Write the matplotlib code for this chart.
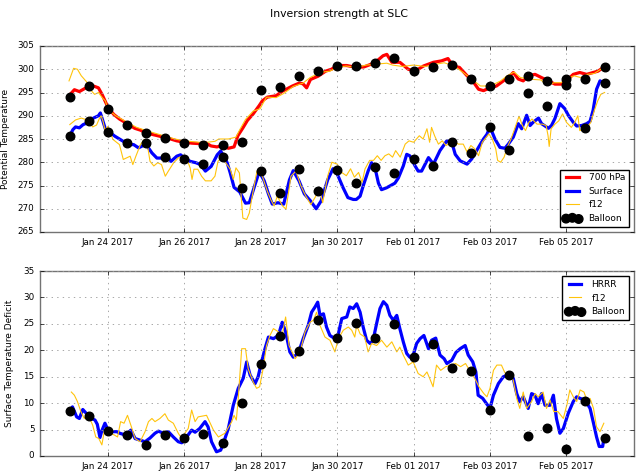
import datetime as dt
import matplotlib
matplotlib.use("Agg")
import matplotlib.pyplot as plt
import matplotlib.dates as mdates

# times are given in days after 2017-01-23 00Z
start = dt.datetime(2017, 1, 23, 0)

# --- top panel: potential temperature ---
t_700 = [0.0, 0.12, 0.25, 0.4, 0.5, 0.62, 0.75, 0.85, 1.0, 1.15, 1.3, 1.5, 1.7, 1.85, 2.0, 2.2, 2.4,
         2.6, 2.8, 3.0, 3.2, 3.4, 3.55, 3.7, 3.85, 4.0, 4.15, 4.3, 4.4, 4.54, 4.65, 4.8, 4.96, 5.04,
         5.17, 5.4, 5.57, 5.83, 6.0, 6.1, 6.2, 6.3, 6.5, 6.7, 6.85, 7.0, 7.25, 7.5, 7.7, 7.86, 8.0,
         8.2, 8.3, 8.43, 8.64, 8.86, 9.04, 9.26, 9.52, 9.73, 9.9, 10.03, 10.2, 10.4, 10.57, 10.7,
         10.83, 11.0, 11.17, 11.35, 11.48, 11.61, 11.74, 11.87, 12.0, 12.18, 12.35, 12.53, 12.7,
         12.87, 13.0, 13.18, 13.35, 13.53, 13.7, 13.83, 13.97]
theta_700 = [294.5, 295.6, 295.2, 295.9, 296.3, 296.4, 296.0, 294.5, 291.8, 290.3, 289.3, 288.3,
             287.3, 286.9, 286.3, 285.9, 285.5, 285.1, 284.6, 284.3, 284.1, 284.0, 284.2, 283.5,
             283.3, 283.6, 283.0, 283.3, 285.7, 287.5, 289.0, 290.4, 292.2, 293.2, 294.0, 294.3,
             295.3, 296.4, 297.0, 296.9, 296.0, 297.8, 298.5, 299.6, 300.0, 300.8, 300.8, 300.4,
             300.5, 301.0, 301.5, 302.9, 303.2, 301.5, 301.5, 300.0, 299.6, 300.7, 301.5, 301.8,
             302.3, 300.7, 300.4, 298.6, 297.2, 295.7, 295.4, 296.0, 296.4, 297.5, 298.2, 299.3,
             297.9, 297.5, 298.6, 298.9, 298.2, 297.5, 296.8, 296.8, 297.5, 298.9, 299.3, 298.9,
             299.3, 299.6, 300.4]

t_sfc = [0.0, 0.08, 0.15, 0.25, 0.35, 0.5, 0.62, 0.75, 0.8, 0.85, 0.93, 1.0, 1.18, 1.4, 1.55, 1.67,
         1.8, 1.9, 2.0, 2.15, 2.28, 2.4, 2.54, 2.65, 2.8, 2.9, 3.0, 3.15, 3.3, 3.42, 3.55, 3.7, 3.86,
         3.95, 4.03, 4.12, 4.2, 4.3, 4.45, 4.6, 4.7, 4.83, 4.96, 5.09, 5.2, 5.3, 5.45, 5.6, 5.75,
         5.85, 6.0, 6.14, 6.3, 6.45, 6.58, 6.75, 6.89, 7.0, 7.15, 7.28, 7.42, 7.5, 7.6, 7.68, 7.81,
         7.9, 7.99, 8.08, 8.16, 8.29, 8.38, 8.51, 8.6, 8.73, 8.82, 8.9, 9.04, 9.12, 9.21, 9.39,
         9.52, 9.69, 9.87, 10.0, 10.09, 10.22, 10.4, 10.52, 10.7, 10.83, 10.92, 11.0, 11.13, 11.26,
         11.39, 11.48, 11.61, 11.74, 11.83, 11.96, 12.05, 12.13, 12.27, 12.35, 12.44, 12.53, 12.61,
         12.7, 12.83, 12.96, 13.05, 13.18, 13.27, 13.4, 13.53, 13.62, 13.7, 13.79, 13.88, 13.97]
theta_sfc = [285.7, 287.0, 287.6, 287.4, 288.1, 288.6, 289.5, 290.0, 290.6, 289.3, 287.2, 286.7,
             285.6, 284.5, 283.8, 283.8, 283.1, 283.5, 283.8, 282.0, 280.9, 280.9, 281.3, 280.2,
             281.3, 281.6, 280.9, 280.2, 279.9, 279.5, 278.1, 279.1, 281.6, 282.4, 281.3, 279.9,
             277.7, 274.6, 273.6, 271.2, 271.3, 274.7, 278.0, 276.0, 273.2, 271.0, 271.3, 271.0,
             276.2, 278.2, 276.0, 273.2, 271.7, 270.0, 271.7, 276.2, 278.6, 277.5, 274.6, 272.4,
             272.0, 272.0, 272.7, 274.9, 278.1, 279.9, 278.8, 275.5, 274.1, 274.5, 274.9, 275.5,
             276.6, 279.2, 281.7, 281.4, 279.2, 278.1, 278.1, 281.0, 279.6, 282.5, 284.6, 284.3,
             281.7, 280.3, 279.6, 280.7, 283.2, 285.0, 286.0, 287.6, 285.0, 283.2, 283.0, 283.9,
             285.4, 288.3, 287.2, 290.1, 287.9, 288.6, 289.5, 288.3, 287.8, 287.3, 287.9, 289.4,
             292.6, 291.5, 290.1, 288.6, 287.8, 287.9, 288.3, 288.8, 291.2, 295.7, 297.5, 297.1]

t_f12_700 = [-0.02, 0.1, 0.2, 0.3, 0.45, 0.55, 0.65, 0.75, 0.85, 0.93, 1.0, 1.2, 1.5, 1.75, 2.0,
             2.25, 2.5, 2.75, 3.0, 3.25, 3.5, 3.8, 3.9, 4.15, 4.35, 4.45, 4.6, 4.8, 4.98, 5.15, 5.4,
             5.6, 5.85, 6.1, 6.29, 6.55, 6.81, 7.0, 7.24, 7.5, 7.76, 8.0, 8.3, 8.45, 8.7, 9.0, 9.3,
             9.6, 9.8, 10.06, 10.3, 10.58, 10.75, 10.93, 11.06, 11.28, 11.45, 11.63, 11.8, 11.98,
             12.15, 12.33, 12.5, 12.68, 12.85, 13.03, 13.2, 13.38, 13.55, 13.73, 13.9]
f12_700 = [297.5, 300.2, 300.0, 298.6, 297.2, 295.5, 294.6, 295.0, 293.9, 293.2, 291.4, 290.0,
           288.6, 287.5, 286.8, 286.2, 285.6, 285.0, 284.6, 284.4, 284.2, 284.5, 285.0, 285.0,
           285.4, 287.0, 289.2, 291.0, 291.5, 294.0, 293.9, 294.8, 296.3, 297.0, 298.2, 299.3,
           299.6, 300.4, 300.7, 300.4, 300.9, 301.1, 301.3, 300.9, 300.6, 300.9, 300.6, 301.1,
           301.4, 300.7, 299.3, 297.5, 296.4, 296.4, 296.6, 297.5, 298.6, 299.4, 298.2, 298.0,
           297.8, 297.7, 296.6, 297.1, 297.1, 298.0, 298.6, 298.2, 298.9, 299.1, 300.0]

t_f12_sfc = [0.0, 0.15, 0.3, 0.45, 0.6, 0.7, 0.78, 0.82, 0.87, 0.92, 1.0, 1.13, 1.3, 1.4, 1.5,
             1.58, 1.65, 1.73, 1.85, 1.95, 2.03, 2.1, 2.2, 2.3, 2.4, 2.5, 2.58, 2.72, 2.85, 2.95,
             3.1, 3.15, 3.2, 3.25, 3.35, 3.45, 3.55, 3.7, 3.8, 3.88, 3.97, 4.08, 4.2, 4.28, 4.35,
             4.44, 4.48, 4.53, 4.63, 4.7, 4.76, 4.9, 5.04, 5.17, 5.26, 5.35, 5.43, 5.57, 5.66, 5.79,
             5.92, 6.05, 6.18, 6.31, 6.44, 6.53, 6.62, 6.75, 6.86, 7.0, 7.12, 7.24, 7.35, 7.45, 7.56,
             7.65, 7.73, 7.85, 7.95, 8.05, 8.15, 8.25, 8.35, 8.45, 8.53, 8.65, 8.78, 8.88, 9.0, 9.15,
             9.25, 9.35, 9.42, 9.47, 9.55, 9.65, 9.75, 9.85, 10.05, 10.17, 10.3, 10.4, 10.5, 10.6,
             10.7, 10.8, 10.97, 11.06, 11.15, 11.2, 11.28, 11.37, 11.45, 11.55, 11.63, 11.76, 11.85,
             11.93, 12.02, 12.1, 12.23, 12.37, 12.47, 12.52, 12.55, 12.6, 12.7, 12.8, 12.9, 13.0,
             13.13, 13.22, 13.3, 13.35, 13.45, 13.55, 13.64, 13.73, 13.82, 13.9, 14.0]
f12_sfc = [288.1, 289.1, 289.5, 289.1, 287.6, 288.0, 289.5, 290.0, 288.8, 287.0, 287.7, 284.9,
           283.8, 280.6, 281.0, 281.3, 279.5, 281.3, 283.8, 284.9, 283.8, 280.2, 279.2, 279.9,
           279.5, 277.0, 278.1, 279.9, 281.0, 281.3, 279.9, 278.8, 276.3, 278.5, 278.5, 277.0,
           276.0, 276.0, 277.0, 280.2, 281.0, 279.9, 278.5, 276.3, 278.8, 277.7, 273.4, 268.0,
           267.7, 269.1, 272.0, 278.1, 277.0, 273.8, 272.0, 270.6, 272.7, 270.6, 269.9, 277.0,
           278.1, 274.9, 272.7, 270.9, 272.7, 274.5, 271.3, 277.0, 280.0, 279.6, 277.8, 277.1,
           278.6, 276.8, 277.8, 275.7, 278.6, 280.4, 280.4, 281.4, 280.4, 281.4, 281.8, 281.1,
           282.5, 281.1, 283.9, 284.6, 284.3, 285.7, 285.0, 287.2, 284.3, 287.5, 285.7, 283.9,
           284.6, 283.6, 284.6, 283.9, 283.9, 282.2, 283.6, 282.9, 281.4, 284.3, 286.1, 285.0,
           282.9, 280.4, 280.0, 281.1, 283.2, 285.0, 286.8, 289.9, 287.9, 286.8, 288.6, 289.3,
           288.2, 288.2, 287.9, 285.7, 283.4, 287.2, 288.2, 288.9, 290.4, 288.6, 287.5, 288.6,
           290.0, 286.8, 287.2, 287.5, 288.6, 291.1, 293.2, 294.6, 295.0]

# soundings every 12 h
t_balloon = [0.0, 0.5, 1.0, 1.5, 2.0, 2.5, 3.0, 3.5, 4.0, 4.5, 5.0, 5.5, 6.0, 6.5, 7.0, 7.5,
             8.0, 8.5, 9.0, 9.5, 10.0, 10.5, 11.0, 11.5, 12.0, 12.5, 13.0, 13.5, 14.0]
balloon_700 = [294.1, 296.3, 291.4, 288.0, 286.2, 285.2, 284.2, 283.7, 283.7, 284.4, 295.6, 296.1,
               298.5, 299.6, 300.8, 300.7, 301.3, 302.5, 299.6, 300.4, 300.9, 297.9, 296.3, 298.0,
               298.6, 297.5, 297.9, 297.9, 300.4]
balloon_sfc = [285.6, 288.8, 286.6, 284.1, 284.1, 281.2, 280.8, 279.6, 281.2, 274.4, 278.1, 273.4,
               278.6, 273.8, 278.4, 275.5, 279.0, 277.6, 280.8, 279.3, 284.3, 281.9, 287.6, 282.6,
               294.8, 292.2, 296.6, 287.4, 297.0]

# --- bottom panel: surface temperature deficit ---
t_hrrr_def = [-0.01, 0.07, 0.18, 0.25, 0.34, 0.44, 0.57, 0.66, 0.72, 0.79, 0.84, 0.92, 1.0, 1.1,
              1.23, 1.31, 1.44, 1.53, 1.6, 1.71, 1.84, 1.97, 2.1, 2.23, 2.32, 2.45, 2.58, 2.71,
              2.84, 2.93, 3.06, 3.19, 3.28, 3.4, 3.54, 3.62, 3.71, 3.84, 3.95, 4.02, 4.15, 4.28,
              4.41, 4.54, 4.63, 4.72, 4.85, 4.93, 5.02, 5.11, 5.2, 5.33, 5.46, 5.56, 5.65, 5.76,
              5.85, 5.98, 6.11, 6.24, 6.33, 6.42, 6.49, 6.55, 6.64, 6.72, 6.81, 6.94, 7.03, 7.12,
              7.25, 7.33, 7.42, 7.51, 7.6, 7.68, 7.77, 7.86, 7.94, 8.03, 8.12, 8.21, 8.3, 8.38,
              8.47, 8.56, 8.64, 8.73, 8.82, 8.9, 8.99, 9.08, 9.17, 9.27, 9.39, 9.47, 9.58, 9.69,
              9.8, 9.87, 10.0, 10.11, 10.22, 10.35, 10.43, 10.55, 10.63, 10.69, 10.81, 10.91, 11.0,
              11.09, 11.22, 11.35, 11.48, 11.61, 11.7, 11.78, 11.87, 12.0, 12.09, 12.18, 12.26,
              12.35, 12.44, 12.57, 12.66, 12.74, 12.83, 12.92, 13.05, 13.18, 13.27, 13.36, 13.49,
              13.62, 13.71, 13.79, 13.86, 13.95, 13.98]
hrrr_def = [8.4, 9.3, 7.4, 7.1, 8.8, 8.0, 7.1, 6.8, 6.0, 3.5, 4.8, 6.2, 4.9, 4.6, 4.6, 4.3, 4.0,
            4.4, 4.9, 3.3, 3.0, 2.7, 3.4, 4.3, 4.7, 4.3, 4.6, 3.6, 2.7, 2.5, 3.6, 4.9, 4.5, 5.2,
            6.5, 5.5, 2.7, 0.8, 1.1, 2.4, 5.2, 9.6, 12.8, 14.7, 17.8, 15.3, 13.7, 15.0, 17.8,
            20.3, 22.5, 22.2, 22.8, 25.3, 23.5, 19.7, 18.7, 19.4, 22.2, 24.7, 27.2, 28.2, 29.1,
            26.6, 26.9, 24.4, 22.8, 22.2, 23.1, 26.0, 26.3, 28.2, 27.9, 28.8, 27.2, 24.4, 21.9,
            21.3, 21.9, 25.0, 27.9, 29.2, 28.5, 26.6, 25.7, 26.6, 24.1, 21.6, 19.4, 18.7, 19.1,
            21.3, 22.2, 22.8, 20.3, 21.9, 22.3, 19.1, 18.4, 17.5, 18.1, 19.6, 20.3, 20.9, 19.1,
            17.8, 15.9, 11.5, 10.9, 9.9, 9.0, 11.5, 13.7, 15.0, 15.3, 14.7, 11.8, 10.3, 11.2, 9.0,
            11.8, 11.5, 9.9, 11.8, 9.6, 9.6, 11.5, 7.1, 4.3, 5.2, 8.1, 10.3, 11.2, 10.9, 10.6, 9.0,
            6.2, 3.6, 1.8, 1.8, 3.3]

t_f12_def = [0.04, 0.12, 0.2, 0.29, 0.38, 0.47, 0.6, 0.68, 0.76, 0.84, 0.9, 1.03, 1.16, 1.25, 1.33,
             1.42, 1.51, 1.6, 1.71, 1.84, 1.97, 2.06, 2.15, 2.23, 2.36, 2.49, 2.58, 2.71, 2.84, 2.93,
             3.01, 3.1, 3.19, 3.28, 3.36, 3.58, 3.76, 3.89, 4.06, 4.24, 4.3, 4.36, 4.41, 4.5, 4.6,
             4.67, 4.8, 4.89, 4.97, 5.06, 5.15, 5.24, 5.33, 5.46, 5.55, 5.65, 5.74, 5.9, 6.03, 6.16,
             6.29, 6.38, 6.46, 6.55, 6.68, 6.81, 6.94, 7.03, 7.16, 7.29, 7.38, 7.46, 7.51, 7.6, 7.72,
             7.81, 7.9, 8.03, 8.16, 8.3, 8.43, 8.56, 8.64, 8.73, 8.86, 8.99, 9.12, 9.25, 9.35, 9.42,
             9.51, 9.6, 9.71, 9.84, 9.97, 10.1, 10.23, 10.36, 10.49, 10.6, 10.71, 10.84, 10.92, 11.0,
             11.09, 11.18, 11.3, 11.38, 11.47, 11.52, 11.61, 11.7, 11.78, 11.87, 11.96, 12.09, 12.18,
             12.26, 12.39, 12.48, 12.57, 12.67, 12.78, 12.92, 13.02, 13.09, 13.18, 13.27, 13.36,
             13.46, 13.55, 13.62, 13.71, 13.79, 13.88, 13.98]
f12_def = [12.1, 11.5, 10.3, 8.4, 7.1, 8.0, 5.8, 3.6, 3.3, 2.1, 4.6, 4.3, 4.0, 3.6, 6.5, 6.2, 7.7,
           5.8, 3.3, 2.7, 4.6, 6.5, 7.1, 6.5, 7.1, 8.0, 6.8, 6.2, 4.3, 3.3, 4.3, 5.2, 8.7, 6.5, 7.4,
           7.7, 4.9, 3.6, 4.3, 6.5, 7.7, 6.8, 10.9, 20.3, 20.3, 16.5, 14.0, 12.8, 13.1, 16.5, 20.9,
           22.8, 24.1, 23.5, 22.5, 26.3, 20.9, 18.4, 19.7, 23.5, 25.3, 25.7, 27.2, 24.7, 22.5, 21.9,
           19.7, 22.2, 23.8, 24.4, 23.8, 22.5, 24.7, 23.1, 22.5, 19.7, 21.3, 20.9, 21.9, 20.6, 21.6,
           19.7, 20.6, 19.1, 17.2, 17.8, 15.6, 15.0, 15.9, 14.7, 13.1, 17.2, 16.2, 16.9, 17.2, 17.5,
           16.9, 17.5, 15.9, 14.7, 13.1, 11.8, 11.2, 12.8, 16.2, 17.2, 17.2, 15.9, 15.0, 15.3, 14.3,
           10.9, 9.0, 12.1, 9.0, 10.3, 11.8, 11.2, 12.1, 9.0, 10.6, 8.4, 8.4, 7.1, 9.9, 12.5, 11.2,
           10.3, 12.5, 12.1, 10.3, 10.9, 9.0, 5.5, 4.6, 6.2]

balloon_def = [a - b for a, b in zip(balloon_700, balloon_sfc)]

tick_days = [1, 3, 5, 7, 9, 11, 13]
x_range = [-0.78, 14.77]


def to_dates(days):
    return [start + dt.timedelta(days=d) for d in days]


plt.style.use('classic')
plt.rcParams['font.family'] = 'DejaVu Sans'

gold = '#ffc40c'

fig = plt.figure(figsize=(6.4, 4.75), dpi=100, facecolor='white')
ax1 = fig.add_axes([40 / 640, 1 - 232 / 475, 594 / 640, 186 / 475])
ax2 = fig.add_axes([40 / 640, 1 - 456 / 475, 594 / 640, 185 / 475])

ax1.plot(to_dates(t_700), theta_700, color='r', lw=2.3, label='700 hPa')
ax1.plot(to_dates(t_sfc), theta_sfc, color='b', lw=2.3, label='Surface')
ax1.plot(to_dates(t_f12_700), f12_700, color=gold, lw=0.8, label='f12')
ax1.plot(to_dates(t_f12_sfc), f12_sfc, color=gold, lw=0.8)
ax1.scatter(to_dates(t_balloon), balloon_700, s=38, c='k', edgecolors='k', zorder=5, label='Balloon')
ax1.scatter(to_dates(t_balloon), balloon_sfc, s=38, c='k', edgecolors='k', zorder=5)
ax1.set_ylim(265, 305)
ax1.set_ylabel('Potential Temperature', fontsize=6.5)
ax1.yaxis.set_label_coords(-0.051, 0.5)
ax1.legend(loc='lower right', fontsize=6.5, scatterpoints=3, borderaxespad=0.6)

ax2.plot(to_dates(t_hrrr_def), hrrr_def, color='b', lw=2.3, label='HRRR')
ax2.plot(to_dates(t_f12_def), f12_def, color=gold, lw=0.8, label='f12')
ax2.scatter(to_dates(t_balloon), balloon_def, s=38, c='k', edgecolors='k', zorder=5, label='Balloon')
ax2.set_ylim(0, 35)
ax2.set_ylabel('Surface Temperature Deficit', fontsize=6.5)
ax2.yaxis.set_label_coords(-0.043, 0.5)
ax2.legend(loc='upper right', fontsize=6.5, scatterpoints=3, borderaxespad=0.6)

for ax in (ax1, ax2):
    ax.set_xlim(to_dates(x_range))
    ax.set_xticks(to_dates(tick_days))
    ax.xaxis.set_major_formatter(mdates.DateFormatter('%b %d %Y'))
    ax.tick_params(labelsize=6.3, length=3)
    ax.grid(True, color='0.6', linestyle=':', linewidth=0.6)
    for sp in ax.spines.values():
        sp.set_color('0.45')

fig.text(339 / 640, 1 - 14 / 475, 'Inversion strength at SLC', ha='center', va='center', fontsize=7.8)

fig.savefig('out.png', dpi=100, facecolor='white')
